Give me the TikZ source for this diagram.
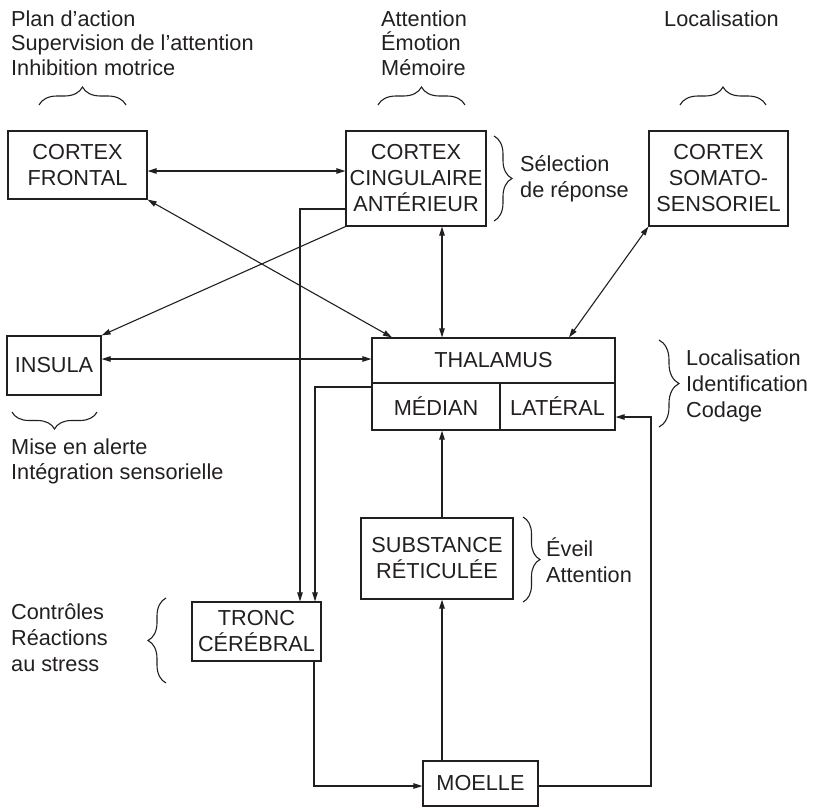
\documentclass[tikz,border=0pt]{standalone}
\usepackage{fontspec}
\setmainfont{Liberation Sans}
\usetikzlibrary{arrows.meta,decorations.pathreplacing,calc}
\definecolor{ink}{RGB}{35,31,32}
\newcommand\bxfont{\fontsize{21.7}{26}\selectfont}
\newcommand\lbfont{\fontsize{21.7}{26}\selectfont}
\begin{document}
\begin{tikzpicture}[x=1pt,y=-1pt,
  ln/.style={line width=1.1pt, draw=ink},
  box/.style={draw=ink, line width=1.2pt, inner sep=0pt, align=center, font=\bxfont, text=ink},
  arr/.style={ln, -{Triangle[length=9pt,width=5.5pt]}},
  darr/.style={ln, {Triangle[length=9pt,width=5.5pt]}-{Triangle[length=9pt,width=5.5pt]}},
  brc/.style={draw=ink, line width=1.1pt, decorate, decoration={brace, amplitude=#1}},
  lbl/.style={anchor=base west, inner sep=0pt, font=\lbfont, text=ink}]
\useasboundingbox (0,0) rectangle (817,807);

% boxes
\node[box, minimum width=139, minimum height=68] (cf) at (77.5,165) {CORTEX\\FRONTAL};
\node[box, minimum width=140, minimum height=95] (acc) at (416,178.5) {CORTEX\\CINGULAIRE\\ANTÉRIEUR};
\node[box, minimum width=139, minimum height=95] (ss) at (718.5,178.5) {CORTEX\\SOMATO-\\SENSORIEL};
\node[box, minimum width=94, minimum height=59] (ins) at (54,365.5) {INSULA};
\node[box, minimum width=243, minimum height=45] (thal) at (493.5,360.5) {THALAMUS};
\node[box, minimum width=128, minimum height=47] (med) at (436,406.5) {MÉDIAN};
\node[box, minimum width=115, minimum height=47] (lat) at (557.5,406.5) {LATÉRAL};
\node[box, minimum width=152, minimum height=81] (sub) at (437,558.5) {SUBSTANCE\\RÉTICULÉE};
\node[box, minimum width=129, minimum height=59] (tronc) at (256.5,631.5) {TRONC\\CÉRÉBRAL};
\node[box, minimum width=115, minimum height=45] (moe) at (480.5,783.5) {MOELLE};

% connectors
\draw[darr] (cf.east |- 0,171) -- (acc.west |- 0,171);
\draw[darr] (cf.south east) -- (thal.north -| 392,0);
\draw[arr] (acc.south west) -- (ins.north east);
\draw[arr] (acc.west |- 0,209) -| (tronc.north -| 300,0);
\draw[arr] (med.west |- 0,387) -| (tronc.north -| 315,0);
\draw[darr] (acc.south -| 442,0) -- (thal.north -| 442,0);
\draw[darr] (ss.south west) -- (thal.north -| 569,0);
\draw[darr] (ins.east |- 0,359) -- (thal.west |- 0,359);
\draw[arr] (sub.north -| 442,0) -- (med.south -| 442,0);
\draw[arr] (moe.north -| 442,0) -- (sub.south -| 442,0);
\draw[arr] (tronc.south -| 314,0) |- (moe.west |- 0,786);
\coordinate (c1) at (651,417);
\draw[arr] (moe.east |- 0,786) -| (c1) -- (lat.east |- c1);

% braces
\draw[brc=18] (39,105) -- (126,105);
\draw[brc=18] (378,105) -- (465,105);
\draw[brc=18] (680,105) -- (766,105);
\draw[brc=18] (494,136) -- (494,221);
\draw[brc=20] (659,340) -- (659,427);
\draw[brc=17] (523,517) -- (523,602);
\draw[brc=18] (166,683) -- (166,598);
\draw[brc=17] (97,412) -- (12,412);

% labels
\node[lbl] (t1) at (11,26) {Plan d’action};
\node[lbl] (t2) at (11,50.5) {Supervision de l’attention};
\node[lbl] (t3) at (11,75) {Inhibition motrice};
\node[lbl] (t4) at (381,26) {Attention};
\node[lbl] (t5) at (381,50.5) {Émotion};
\node[lbl] (t6) at (381,75) {Mémoire};
\node[lbl] (t7) at (664,26) {Localisation};
\node[lbl] (t8) at (520,171) {Sélection};
\node[lbl] (t9) at (520,197) {de réponse};
\node[lbl] (t10) at (686,365) {Localisation};
\node[lbl] (t11) at (686,391) {Identification};
\node[lbl] (t12) at (686,417) {Codage};
\node[lbl] (t13) at (11,454) {Mise en alerte};
\node[lbl] (t14) at (11,479.5) {Intégration sensorielle};
\node[lbl] (t15) at (546,556) {Éveil};
\node[lbl] (t16) at (546,582) {Attention};
\node[lbl] (t17) at (11,619) {Contrôles};
\node[lbl] (t18) at (11,645) {Réactions};
\node[lbl] (t19) at (11,671) {au stress};
\end{tikzpicture}
\end{document}
